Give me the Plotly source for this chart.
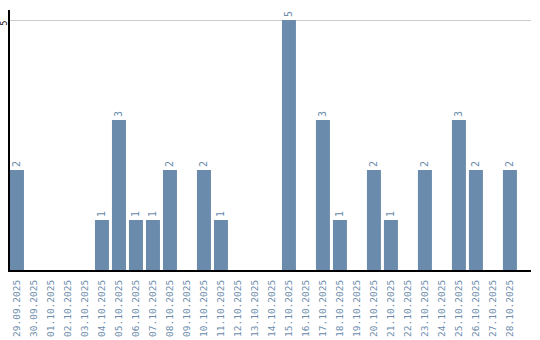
import plotly.graph_objects as go

dates = ["29.09.2025", "30.09.2025", "01.10.2025", "02.10.2025", "03.10.2025",
         "04.10.2025", "05.10.2025", "06.10.2025", "07.10.2025", "08.10.2025",
         "09.10.2025", "10.10.2025", "11.10.2025", "12.10.2025", "13.10.2025",
         "14.10.2025", "15.10.2025", "16.10.2025", "17.10.2025", "18.10.2025",
         "19.10.2025", "20.10.2025", "21.10.2025", "22.10.2025", "23.10.2025",
         "24.10.2025", "25.10.2025", "26.10.2025", "27.10.2025", "28.10.2025"]
counts = [2, 0, 0, 0, 0, 1, 3, 1, 1, 2, 0, 2, 1, 0, 0, 0, 5, 0, 3, 1,
          0, 2, 1, 0, 2, 0, 3, 2, 0, 2]
y_tick = 5

BLUE = "#6a8bab"
FONT = "DejaVu Sans Mono"

fig = go.Figure(go.Bar(
    x=list(range(len(dates))),
    y=counts,
    marker=dict(color=BLUE, line=dict(width=0)),
    text=[str(v) if v else "" for v in counts],
    textposition="outside",
    textangle=-90,
    textfont=dict(family=FONT, size=10, color=BLUE),
    cliponaxis=False,
    constraintext="none",
))

fig.update_layout(
    width=540, height=340,
    margin=dict(l=10, r=9, t=10, b=70),
    paper_bgcolor="white", plot_bgcolor="white",
    bargap=3/17,
    showlegend=False,
    font=dict(family=FONT, size=10),
)
fig.update_xaxes(
    range=[-0.41, 30.24],
    tickmode="array",
    tickvals=list(range(len(dates))),
    ticktext=dates,
    tickangle=-90,
    tickfont=dict(family=FONT, size=9.5, color=BLUE),
    showgrid=False,
    showline=True, linecolor="black", linewidth=2,
    ticks="",
    zeroline=False,
    automargin=False,
    ticklabelstandoff=4,
)
fig.update_yaxes(
    range=[0, 5.2],
    tickmode="array",
    tickvals=[y_tick],
    showticklabels=False,
    showgrid=True, gridcolor="#cccccc", gridwidth=1,
    showline=True, linecolor="black", linewidth=2,
    ticks="",
    zeroline=False,
    automargin=False,
)
fig.add_annotation(
    x=0, xref="paper", xanchor="left", xshift=-11,
    y=y_tick, yref="y", yanchor="middle", yshift=-3,
    text=str(y_tick), textangle=-90, showarrow=False,
    borderpad=0, borderwidth=0,
    font=dict(family=FONT, size=8, color="black"),
)

fig.write_html("out.html")
